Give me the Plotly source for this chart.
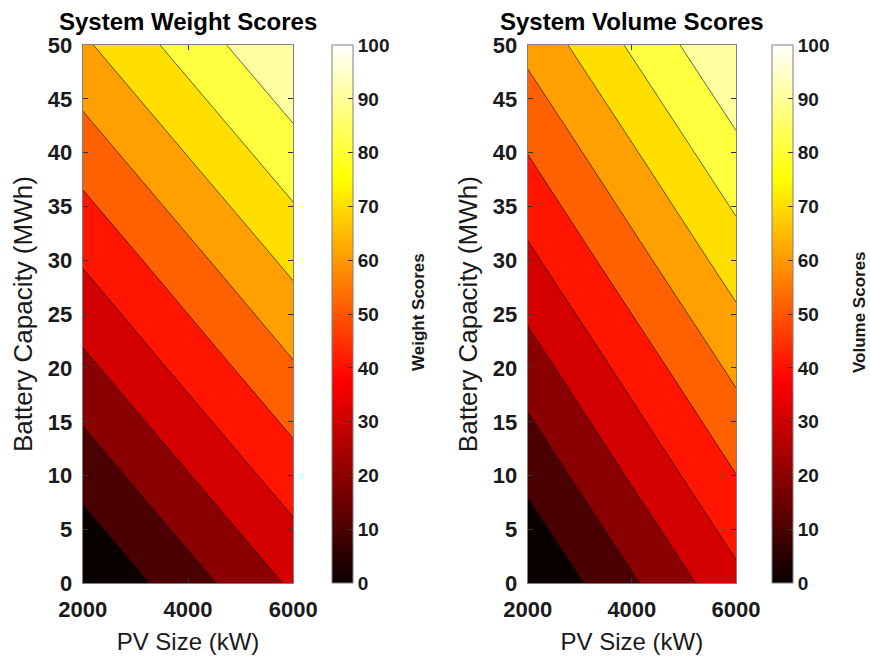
import plotly.graph_objects as go

# ---------------- data ----------------
pv_size_kw = [2000, 3000, 4000, 5000, 6000]
battery_mwh = [0, 10, 20, 30, 40, 50]

# rows follow battery_mwh, columns follow pv_size_kw
weight_scores = [
    [0.0, 7.9, 15.8, 23.7, 31.6],
    [13.7, 21.6, 29.5, 37.4, 45.3],
    [27.4, 35.3, 43.2, 51.1, 59.0],
    [41.0, 48.9, 56.8, 64.7, 72.6],
    [54.7, 62.6, 70.5, 78.4, 86.3],
    [68.4, 76.3, 84.2, 92.1, 100.0],
]
volume_scores = [
    [0.0, 9.3, 18.6, 27.9, 37.2],
    [12.6, 21.9, 31.2, 40.5, 49.8],
    [25.1, 34.4, 43.7, 53.0, 62.3],
    [37.7, 47.0, 56.3, 65.6, 74.9],
    [50.2, 59.5, 68.8, 78.1, 87.4],
    [62.8, 72.1, 81.4, 90.7, 100.0],
]

score_ticks = [0, 10, 20, 30, 40, 50, 60, 70, 80, 90, 100]
battery_ticks = [0, 5, 10, 15, 20, 25, 30, 35, 40, 45, 50]
pv_ticks = [2000, 4000, 6000]

titles = ["System Weight Scores", "System Volume Scores"]
cbar_titles = ["Weight Scores", "Volume Scores"]
x_title = "PV Size (kW)"
y_title = "Battery Capacity (MWh)"

# ---------------- styles ----------------
W, H = 870, 656
ML, MR, MT, MB = 0, 10, 20, 50
PW, PH = W - ML - MR, H - MT - MB
FONT = "Liberation Sans, Arial, sans-serif"


def fx(px):
    return (px - ML) / PW


def fy(py):
    return (H - MB - py) / PH


# MATLAB 'hot' band colours (colour at lower level of each 10-wide band)
band_colors = ["#0b0000", "#4a0000", "#8a0000", "#d40000", "#ff1500",
               "#ff6000", "#ff9f00", "#ffdf00", "#ffff40", "#ffff9f"]
stepped = []
for i, c in enumerate(band_colors):
    stepped.append([i / 10, c])
    stepped.append([(i + 1) / 10, c])

hot_continuous = [[0.0, "rgb(10,0,0)"], [0.375, "rgb(255,0,0)"],
                  [0.75, "rgb(255,255,0)"], [1.0, "rgb(255,255,255)"]]

plot_top, plot_bot = 45, 583.3
x_doms = [(82.7, 293.3), (527.7, 736.0)]
cbar_x = [332.3, 772.3]
cbar_title_x = [418, 859]

fig = go.Figure()
datasets = [weight_scores, volume_scores]

for k in range(2):
    xa = "x" if k == 0 else "x2"
    ya = "y" if k == 0 else "y2"
    fig.add_trace(go.Contour(
        x=pv_size_kw, y=battery_mwh, z=datasets[k],
        xaxis=xa, yaxis=ya,
        colorscale=stepped, zmin=0, zmax=100, zauto=False,
        contours=dict(start=10, end=90, size=10, coloring="fill"),
        line=dict(color="black", width=0.6),
        showscale=False, hoverinfo="skip",
    ))
    fig.add_trace(go.Scatter(
        x=[None], y=[None], xaxis=xa, yaxis=ya, mode="markers",
        showlegend=False, hoverinfo="skip",
        marker=dict(
            color=[0], cmin=0, cmax=100, colorscale=hot_continuous,
            showscale=True,
            colorbar=dict(
                x=fx(cbar_x[k]), xanchor="left", xpad=0, ypad=0,
                y=fy((plot_top + plot_bot) / 2), yanchor="middle",
                len=(plot_bot - plot_top) / PH, lenmode="fraction",
                thickness=20.5, thicknessmode="pixels",
                outlinecolor="#7f7f7f", outlinewidth=1,
                tickvals=score_ticks, ticks="inside", ticklen=5,
                tickcolor="#333333",
                tickfont=dict(family=FONT, size=19, color="#1a1a1a", weight="bold"),
            ),
        ),
    ))

axis_common = dict(
    showgrid=False, zeroline=False, showline=True, linecolor="#7f7f7f",
    linewidth=1, mirror="ticks", ticks="inside", ticklen=5, tickcolor="#333333",
    automargin=False,
    tickfont=dict(family=FONT, size=22, color="#1a1a1a", weight="bold"),
)

layout = dict(
    width=W, height=H, margin=dict(l=ML, r=MR, t=MT, b=MB, autoexpand=False),
    paper_bgcolor="white", plot_bgcolor="white", showlegend=False,
    font=dict(family=FONT, color="#1a1a1a"),
)
for k in range(2):
    sx = "" if k == 0 else "2"
    layout["xaxis" + sx] = dict(
        axis_common, domain=[fx(x_doms[k][0]), fx(x_doms[k][1])],
        range=[2000, 6000], tickvals=pv_ticks, anchor="y" + sx,
        ticklabelstandoff=6,
        title=dict(text=x_title, standoff=12,
                   font=dict(family=FONT, size=24, color="#1a1a1a")),
    )
    layout["yaxis" + sx] = dict(
        axis_common, domain=[fy(plot_bot), fy(plot_top)],
        range=[0, 50], tickvals=battery_ticks, anchor="x" + sx,
        ticklabelstandoff=5,
        title=dict(text=y_title, standoff=7,
                   font=dict(family=FONT, size=26, color="#1a1a1a")),
    )

fig.update_layout(**layout)

for k in range(2):
    fig.add_annotation(
        text=titles[k], xref="paper", yref="paper",
        x=fx((x_doms[k][0] + x_doms[k][1]) / 2), y=fy(21),
        xanchor="center", yanchor="middle", showarrow=False,
        font=dict(family=FONT, size=24, color="black", weight="bold"),
    )
    fig.add_annotation(
        text=cbar_titles[k], xref="paper", yref="paper",
        x=fx(cbar_title_x[k]), y=fy(312), textangle=-90,
        xanchor="center", yanchor="middle", showarrow=False,
        font=dict(family=FONT, size=17, color="#1a1a1a", weight="bold"),
    )

fig.write_html("out.html", config={"displayModeBar": False},
               post_script="document.body.style.margin='0';")
